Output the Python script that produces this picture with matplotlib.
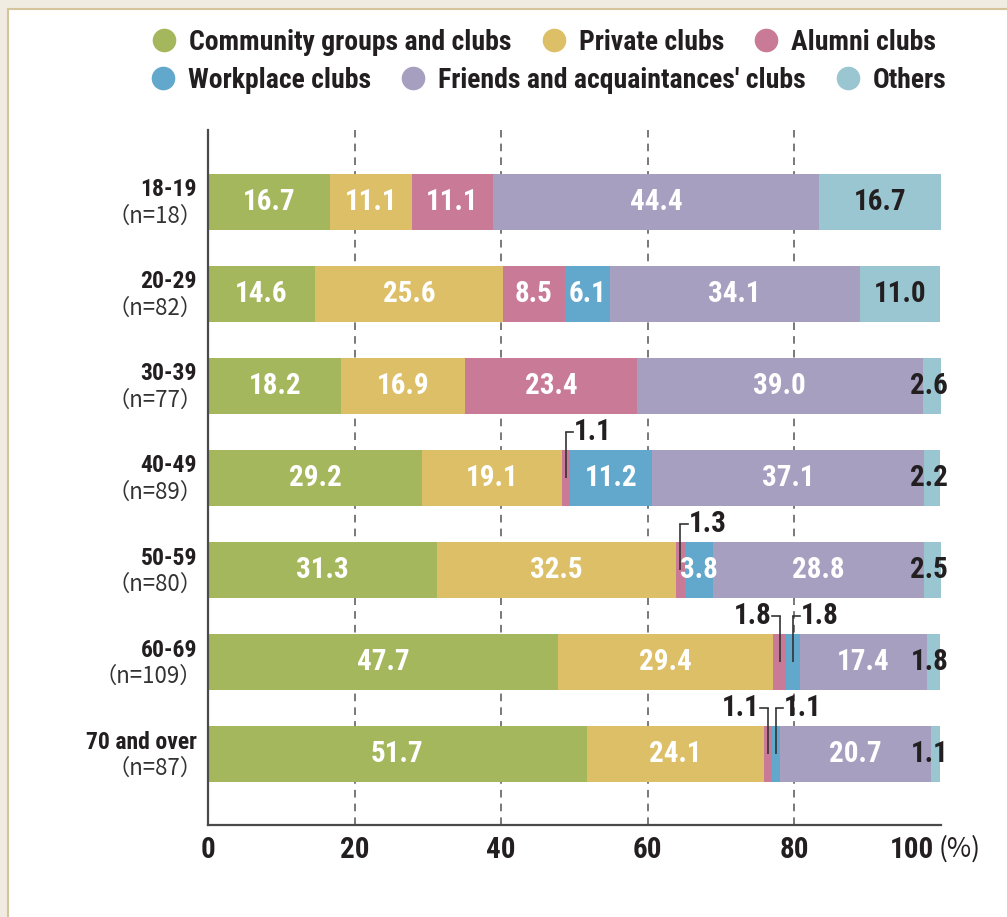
import matplotlib
matplotlib.use('Agg')
import matplotlib.pyplot as plt
from matplotlib.lines import Line2D
import matplotlib.transforms as mtransforms

# ---------------- data ----------------
categories = ['18-19', '20-29', '30-39', '40-49', '50-59', '60-69', '70 and over']
sample_sizes = ['（n=18）', '（n=82）', '（n=77）', '（n=89）', '（n=80）', '（n=109）', '（n=87）']
series_names = ['Community groups and clubs', 'Private clubs', 'Alumni clubs',
                'Workplace clubs', "Friends and acquaintances' clubs", 'Others']
community = [16.7, 14.6, 18.2, 29.2, 31.3, 47.7, 51.7]
private = [11.1, 25.6, 16.9, 19.1, 32.5, 29.4, 24.1]
alumni = [11.1, 8.5, 23.4, 1.1, 1.3, 1.8, 1.1]
workplace = [0.0, 6.1, 0.0, 11.2, 3.8, 1.8, 1.1]
friends = [44.4, 34.1, 39.0, 37.1, 28.8, 17.4, 20.7]
others = [16.7, 11.0, 2.6, 2.2, 2.5, 1.8, 1.1]
x_ticks = [0, 20, 40, 60, 80, 100]
x_tick_labels = ['0', '20', '40', '60', '80', '100']
unit_label = '(%)'

series = [community, private, alumni, workplace, friends, others]
colors = ['#a5b75c', '#dcbf67', '#c97a96', '#62a8cc', '#a69fc0', '#9ac6d2']

# small segments labelled with leader lines: (row, series index, direction)
leaders = [(3, 2, 'right'), (4, 2, 'right'), (5, 2, 'left'), (5, 3, 'right'),
           (6, 2, 'left'), (6, 3, 'right')]

FB = ['Roboto Condensed', 'DejaVu Sans']
FR = ['Noto Sans CJK JP', 'DejaVu Sans']
ST = 'condensed'
DARK = '#231f20'

W, H = 1007, 917
fig = plt.figure(figsize=(W / 100, H / 100), dpi=100)
fig.patch.set_facecolor('#f1ece1')

# white panel with tan border
panel = plt.Rectangle((8 / W, -0.01), 1.0, 1 - 9 / H + 0.01, transform=fig.transFigure,
                      facecolor='white', edgecolor='#d3c49a', linewidth=1.5, zorder=-5)
fig.patches.append(panel)

ax = fig.add_axes([208 / W, 1 - 825 / H, (941 - 208) / W, (825 - 130) / H])
ax.set_facecolor('none')
ax.set_zorder(2)

n = len(categories)
ypos = list(range(n))
left = [0.0] * n
bar_h = 0.61
seg_bounds = []
for s, vals in enumerate(series):
    ax.barh(ypos, vals, left=left, height=bar_h, color=colors[s], zorder=3,
            linewidth=0)
    seg_bounds.append(list(zip(left, vals)))
    left = [l + v for l, v in zip(left, vals)]

ax.set_xlim(0, 100)
ax.set_ylim(6.77, -0.78)

for x in x_ticks[1:-1]:
    ax.axvline(x, color='#555555', lw=1.1, ls=(0, (5, 4)), zorder=1)

for sp in ['top', 'right']:
    ax.spines[sp].set_visible(False)
for sp in ['left', 'bottom']:
    ax.spines[sp].set_color('#4a4a4a')
    ax.spines[sp].set_linewidth(1.6)
    ax.spines[sp].set_zorder(5)

ax.set_xticks(x_ticks)
ax.set_xticklabels(x_tick_labels, fontfamily=FB, fontweight='bold', fontsize=21,
                   fontstretch=ST, color=DARK)
ax.tick_params(axis='x', length=0, pad=8)
ax.set_yticks([])
# shift the last tick label ("100") left so that the unit fits after it
last = ax.get_xticklabels()[-1]
last.set_horizontalalignment('right')
last.set_transform(last.get_transform() + mtransforms.ScaledTranslation(-7 / 100, 0, fig.dpi_scale_trans))
ax.text(100, -0.034, unit_label,
        transform=mtransforms.blended_transform_factory(ax.transData, ax.transAxes)
        + mtransforms.ScaledTranslation(-2 / 100, 0, fig.dpi_scale_trans),
        ha='left', va='center', fontsize=19, fontfamily=FR, color=DARK, clip_on=False)

# category labels
ytrans = mtransforms.blended_transform_factory(ax.transAxes, ax.transData)
for i, (c, nlab) in enumerate(zip(categories, sample_sizes)):
    ax.text(-0.015, i - 0.13, c, transform=ytrans, ha='right', va='center',
            fontfamily=FB, fontweight='bold', fontsize=17, fontstretch=ST, color=DARK)
    ax.text(-0.008, i + 0.16, nlab, transform=ytrans, ha='right', va='center',
            fontfamily=FR, fontsize=16, color='#333333')

leader_set = {(r, s): d for r, s, d in leaders}
VS = 21  # value label size

# value labels
for s in range(len(series)):
    for i in range(n):
        l, v = seg_bounds[s][i]
        if v <= 0:
            continue
        txt = f'{v:.1f}'
        kw = dict(fontfamily=FB, fontweight='bold', fontsize=VS, fontstretch=ST, zorder=7)
        if (i, s) in leader_set:
            d = leader_set[(i, s)]
            xc = l + v / 2
            ytop = i - 0.5
            ax.plot([xc, xc], [i, ytop], color='#333333', lw=1.2, zorder=6,
                    solid_capstyle='butt')
            if d == 'right':
                ax.plot([xc, xc + 1.0], [ytop, ytop], color='#333333', lw=1.2, zorder=6)
                ax.text(xc + 1.1, ytop, txt, ha='left', va='center', color=DARK, **kw)
            else:
                ax.plot([xc, xc - 1.0], [ytop, ytop], color='#333333', lw=1.2, zorder=6)
                ax.text(xc - 1.1, ytop, txt, ha='right', va='center', color=DARK, **kw)
        elif s == 5:
            if v >= 5:
                ax.text(l + v / 2, i, txt, ha='center', va='center', color=DARK, **kw)
            else:
                ax.text(101.0, i, txt, ha='right', va='center', color=DARK,
                        clip_on=False, **kw)
        else:
            ax.text(l + v / 2, i, txt, ha='center', va='center', color='white', **kw)

# legend in two rows
def handle(c):
    return Line2D([], [], marker='o', ls='none', markersize=17, markerfacecolor=c,
                  markeredgewidth=0)

legprops = dict(family=FB, weight='bold', size=20, stretch=ST)
common = dict(ncol=3, loc='center', frameon=False, prop=legprops, handletextpad=0.4,
              columnspacing=1.0, handlelength=1.0, labelcolor=DARK, borderpad=0,
              borderaxespad=0)
leg1 = fig.legend([handle(c) for c in colors[:3]], series_names[:3],
                  bbox_to_anchor=(543 / W, 1 - 42 / H), **common)
leg2 = fig.legend([handle(c) for c in colors[3:]], series_names[3:],
                  bbox_to_anchor=(548 / W, 1 - 80 / H), **common)

fig.savefig('out.png', dpi=100, facecolor=fig.get_facecolor())
